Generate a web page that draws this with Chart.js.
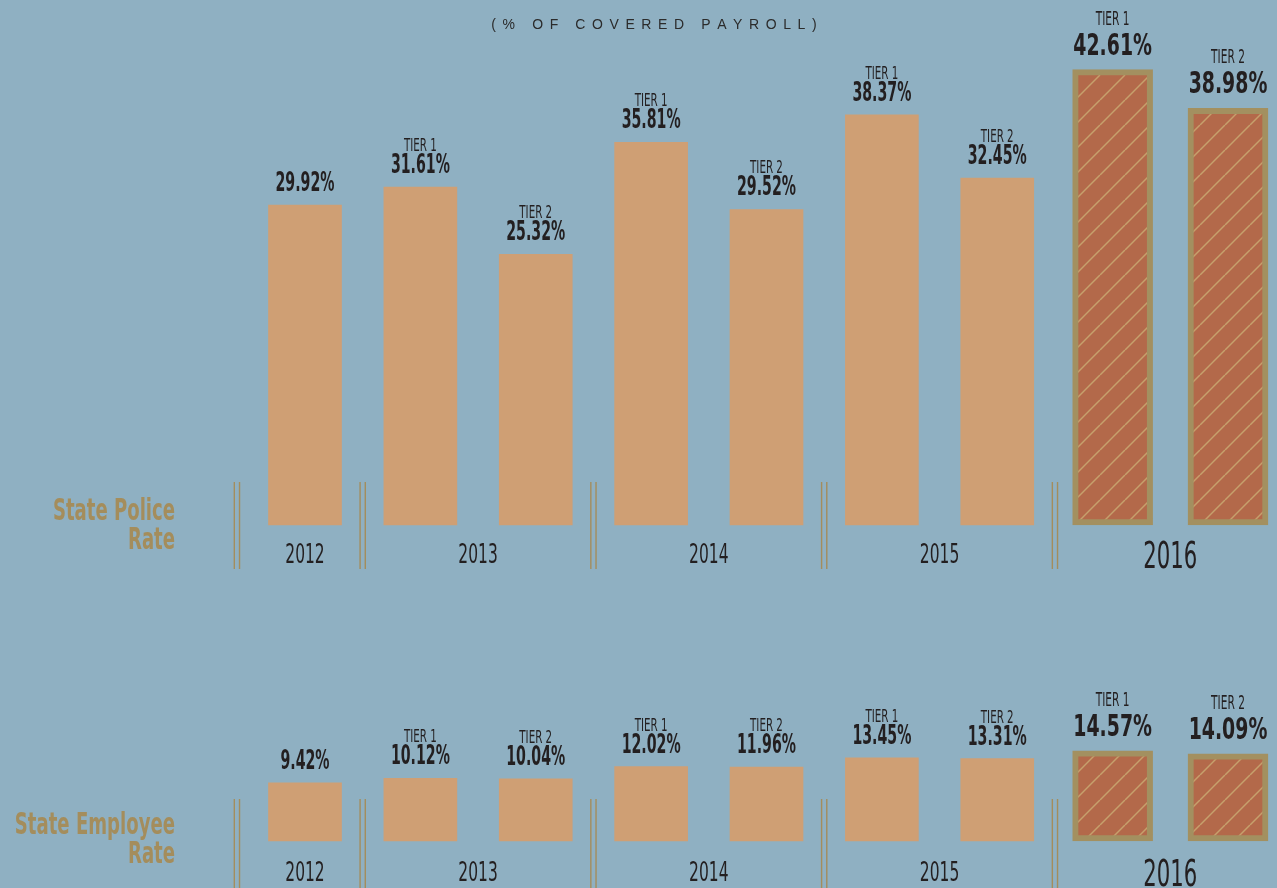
<!DOCTYPE html>
<html>
<head>
<meta charset="utf-8">
<script src="https://cdn.jsdelivr.net/npm/chart.js@4.4.1/dist/chart.umd.min.js"></script>
<style>
  html, body { margin: 0; padding: 0; background: #8fb0c2; overflow: hidden; }
  #wrap { position: relative; width: 1277px; height: 888px; }
  canvas { position: absolute; left: 0; }
  #police { top: 0; }
  #employee { top: 600px; }
</style>
</head>
<body>
<div id="wrap">
  <canvas id="police" width="1277" height="600"></canvas>
  <canvas id="employee" width="1277" height="288"></canvas>
</div>
<script>
// one entry per bar
const barYears = ['2012', '2013', '2013', '2014', '2014', '2015', '2015', '2016', '2016']
const barTiers = ['', 'TIER 1', 'TIER 2', 'TIER 1', 'TIER 2', 'TIER 1', 'TIER 2', 'TIER 1', 'TIER 2']
const policeRates = [29.92, 31.61, 25.32, 35.81, 29.52, 38.37, 32.45, 42.61, 38.98]
const employeeRates = [9.42, 10.12, 10.04, 12.02, 11.96, 13.45, 13.31, 14.57, 14.09]
const yearLabels = ['2012', '2013', '2014', '2015', '2016']
const projectedYear = '2016'

const narrow = "'Liberation Sans Narrow', 'DejaVu Sans Condensed', 'Arial Narrow', sans-serif"
const ink = '#231f20'
const gold = '#a48d5c'

// whatever narrow face we get, bring its digits to Arial Narrow width (0.456em)
const widthFix = {}
const measureCtx = document.createElement('canvas').getContext('2d')
for (const bold of [false, true]) {
    measureCtx.font = `${bold ? 'bold ' : ''}100px ${narrow}`
    widthFix[bold] = 456 / measureCtx.measureText('0123456789').width
}

// squeezed text, the infographic font is very condensed
const drawText = (ctx, str, x, y, size, bold, color, align, squeeze) => {
    ctx.save()
    ctx.translate(x, y)
    ctx.scale(squeeze * widthFix[bold], 1)
    ctx.font = `${bold ? 'bold ' : ''}${size}px ${narrow}`
    ctx.fillStyle = color
    ctx.textAlign = align
    ctx.textBaseline = 'alphabetic'
    ctx.fillText(str, 0, 0)
    ctx.restore()
}

// diagonal hatch for the 2016 bars
const hatch = () => {
    const c = document.createElement('canvas')
    c.width = 25
    c.height = 25
    const g = c.getContext('2d')
    g.fillStyle = '#b3694a'
    g.fillRect(0, 0, 25, 25)
    g.strokeStyle = '#c6a06c'
    g.lineWidth = 1.5
    for (const off of [-25, 0, 25]) {
        g.beginPath()
        g.moveTo(off, 25)
        g.lineTo(off + 25, 0)
        g.stroke()
    }
    return g.createPattern(c, 'repeat')
}
const hatchFill = hatch()

const rateLabels = {
    id: 'rateLabels',
    afterDatasetsDraw(chart, args, opts) {
        const ctx = chart.ctx
        const px = i => chart.scales.x.getPixelForValue(i)
        const step = px(1) - px(0)
        const rates = chart.data.datasets.map(d => d.data)

        // tier + value over every bar
        barYears.forEach((year, i) => {
            const big = year === projectedYear
            const bar = chart.getDatasetMeta(big ? 1 : 0).data[i]
            const value = rates[big ? 1 : 0][i]
            const x = bar.x
            const top = bar.y
            if (big) {
                drawText(ctx, barTiers[i], x, top - 45, 19, false, ink, 'center', 0.78)
                drawText(ctx, value.toFixed(2) + '%', x, top - 15, 31, true, ink, 'center', 0.93)
            } else {
                if (barTiers[i]) drawText(ctx, barTiers[i], x, top - 36, 18, false, ink, 'center', 0.8)
                drawText(ctx, value.toFixed(2) + '%', x, top - 14, 27, true, ink, 'center', 0.8)
            }
        })

        // double rules between year groups
        ctx.save()
        ctx.strokeStyle = gold
        ctx.lineWidth = 1.4
        const seps = [px(0) - step * 0.59]
        barYears.forEach((y, i) => {
            if (i > 0 && y !== barYears[i - 1]) seps.push((px(i - 1) + px(i)) / 2)
        })
        seps.forEach(s => {
            for (const dx of [-2.6, 2.6]) {
                ctx.beginPath()
                ctx.moveTo(s + dx, opts.sepTop)
                ctx.lineTo(s + dx, opts.sepBottom)
                ctx.stroke()
            }
        })
        ctx.restore()

        // year under each group
        yearLabels.forEach(year => {
            const idx = barYears.map((y, i) => y === year ? i : -1).filter(i => i >= 0)
            const cx = idx.reduce((s, i) => s + px(i), 0) / idx.length
            if (year === projectedYear) {
                drawText(ctx, year, cx, opts.bigYearBase, 38, false, ink, 'center', 0.78)
            } else {
                drawText(ctx, year, cx, opts.yearBase, 27, false, ink, 'center', 0.8)
            }
        })

        // gold side title
        opts.side.forEach((line, k) => {
            drawText(ctx, line, 175, opts.sideBase + k * 29, 31, true, gold, 'right', 0.89)
        })

        // spaced-out heading
        if (opts.heading) {
            ctx.save()
            ctx.font = "14px 'Liberation Sans', 'DejaVu Sans', sans-serif"
            ctx.fillStyle = '#2b2b2b'
            const gap = 6.6
            const chars = opts.heading.split('')
            const total = chars.reduce((s, ch) => s + ctx.measureText(ch).width + gap, -gap)
            let cx = 654 - total / 2
            chars.forEach(ch => {
                ctx.fillText(ch, cx, 29)
                cx += ctx.measureText(ch).width + gap
            })
            ctx.restore()
        }
    }
}

const makeChart = (id, rates, yMax, padding, labelOpts) => {
    const past = rates.map((v, i) => barYears[i] === projectedYear ? null : v)
    const projected = rates.map((v, i) => barYears[i] === projectedYear ? v : null)
    return new Chart(document.getElementById(id), {
        type: 'bar',
        data: {
            labels: barYears.map((y, i) => barTiers[i] ? `${y} ${barTiers[i]}` : y),
            datasets: [{
                data: past,
                backgroundColor: '#cf9f74',
                barThickness: 73,
                grouped: false,
                clip: false
            }, {
                data: projected,
                backgroundColor: hatchFill,
                borderColor: '#a39060',
                borderWidth: 6,
                borderSkipped: false,
                barThickness: 80,
                grouped: false,
                clip: false
            }]
        },
        options: {
            responsive: false,
            animation: false,
            devicePixelRatio: 1,
            layout: { padding },
            scales: {
                x: { display: false, offset: false },
                y: { display: false, min: 0, max: yMax }
            },
            plugins: {
                legend: { display: false },
                tooltip: { enabled: false },
                rateLabels: labelOpts
            }
        },
        plugins: [rateLabels]
    })
}

makeChart('police', policeRates, 45, { left: 305, right: 49, top: 44, bottom: 75 }, {
    heading: '(% OF COVERED PAYROLL)',
    side: ['State Police', 'Rate'],
    sideBase: 520,
    sepTop: 482,
    sepBottom: 569,
    yearBase: 563,
    bigYearBase: 568
})

makeChart('employee', employeeRates, 16, { left: 305, right: 49, top: 142, bottom: 47 }, {
    side: ['State Employee', 'Rate'],
    sideBase: 234,
    sepTop: 199,
    sepBottom: 288,
    yearBase: 281,
    bigYearBase: 286
})
</script>
</body>
</html>
